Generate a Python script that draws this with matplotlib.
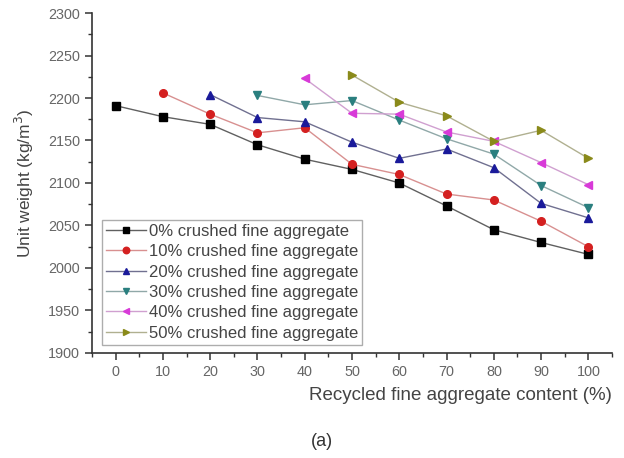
import matplotlib.pyplot as plt
from matplotlib.ticker import MultipleLocator

plt.rcParams['font.family'] = ['Liberation Sans', 'DejaVu Sans']

# recycled fine aggregate content (%)
x_all = [0, 10, 20, 30, 40, 50, 60, 70, 80, 90, 100]

# unit weight (kg/m3), each series starts at its own crushed-aggregate level
uw_0 = [2191, 2178, 2169, 2145, 2128, 2116, 2100, 2073, 2045, 2030, 2016]
uw_10 = [2206, 2181, 2159, 2165, 2122, 2110, 2087, 2080, 2055, 2025]
uw_20 = [2204, 2177, 2172, 2148, 2129, 2140, 2118, 2076, 2059]
uw_30 = [2203, 2192, 2197, 2174, 2152, 2134, 2097, 2071]
uw_40 = [2223, 2182, 2181, 2160, 2149, 2124, 2098]
uw_50 = [2227, 2195, 2179, 2149, 2162, 2129]

labels = ["0% crushed fine aggregate", "10% crushed fine aggregate",
          "20% crushed fine aggregate", "30% crushed fine aggregate",
          "40% crushed fine aggregate", "50% crushed fine aggregate"]

series = [uw_0, uw_10, uw_20, uw_30, uw_40, uw_50]
markers = ['s', 'o', '^', 'v', '<', '>']
mcolors = ['#000000', '#d42020', '#1a1a9a', '#2a7f7f', '#d83ad8', '#8a8a1a']
lcolors = ['#606060', '#d89090', '#707090', '#90a8a8', '#d0a0d0', '#b0b090']

fig = plt.figure(figsize=(6.24, 4.58), dpi=100)
ax = fig.add_axes([0.1474, 0.2293, 0.8334, 0.7423])

for i, ys in enumerate(series):
    xs = x_all[len(x_all) - len(ys):]
    ax.plot(xs, ys, color=lcolors[i], lw=1.0, marker=markers[i], ms=5.5,
            mfc=mcolors[i], mec=mcolors[i], label=labels[i])

ax.set_xlim(-5, 105)
ax.set_ylim(1900, 2300)
ax.xaxis.set_major_locator(MultipleLocator(10))
ax.xaxis.set_minor_locator(MultipleLocator(5))
ax.yaxis.set_major_locator(MultipleLocator(50))
ax.yaxis.set_minor_locator(MultipleLocator(25))
ax.spines['top'].set_visible(False)
ax.spines['right'].set_visible(False)
for s in ['left', 'bottom']:
    ax.spines[s].set_color('#333333')
    ax.spines[s].set_linewidth(1.2)
ax.tick_params(which='major', direction='out', length=5, width=1.1,
               colors='#333333', labelcolor='#666666', labelsize=10.4)
ax.tick_params(which='minor', direction='out', length=3, width=1.0, colors='#333333')

ax.set_xlabel("Recycled fine aggregate content (%)", fontsize=13.5,
              color='#444444', loc='right', labelpad=6)
ax.set_ylabel("Unit weight (kg/m$^3$)", fontsize=12.5, color='#444444', labelpad=9)

leg = ax.legend(loc='lower left', bbox_to_anchor=(0.019, 0.024), borderaxespad=0,
                fontsize=12, frameon=True, fancybox=False, handlelength=2.4,
                handletextpad=0.15, labelspacing=0.32, borderpad=0.25,
                markerscale=0.85)
leg.get_frame().set_edgecolor('#999999')
leg.get_frame().set_linewidth(1.0)
for t in leg.get_texts():
    t.set_color('#444444')

fig.text(0.516, 0.035, "(a)", fontsize=13, color='#333333', ha='center', va='center')

fig.savefig("out.png", dpi=100)
